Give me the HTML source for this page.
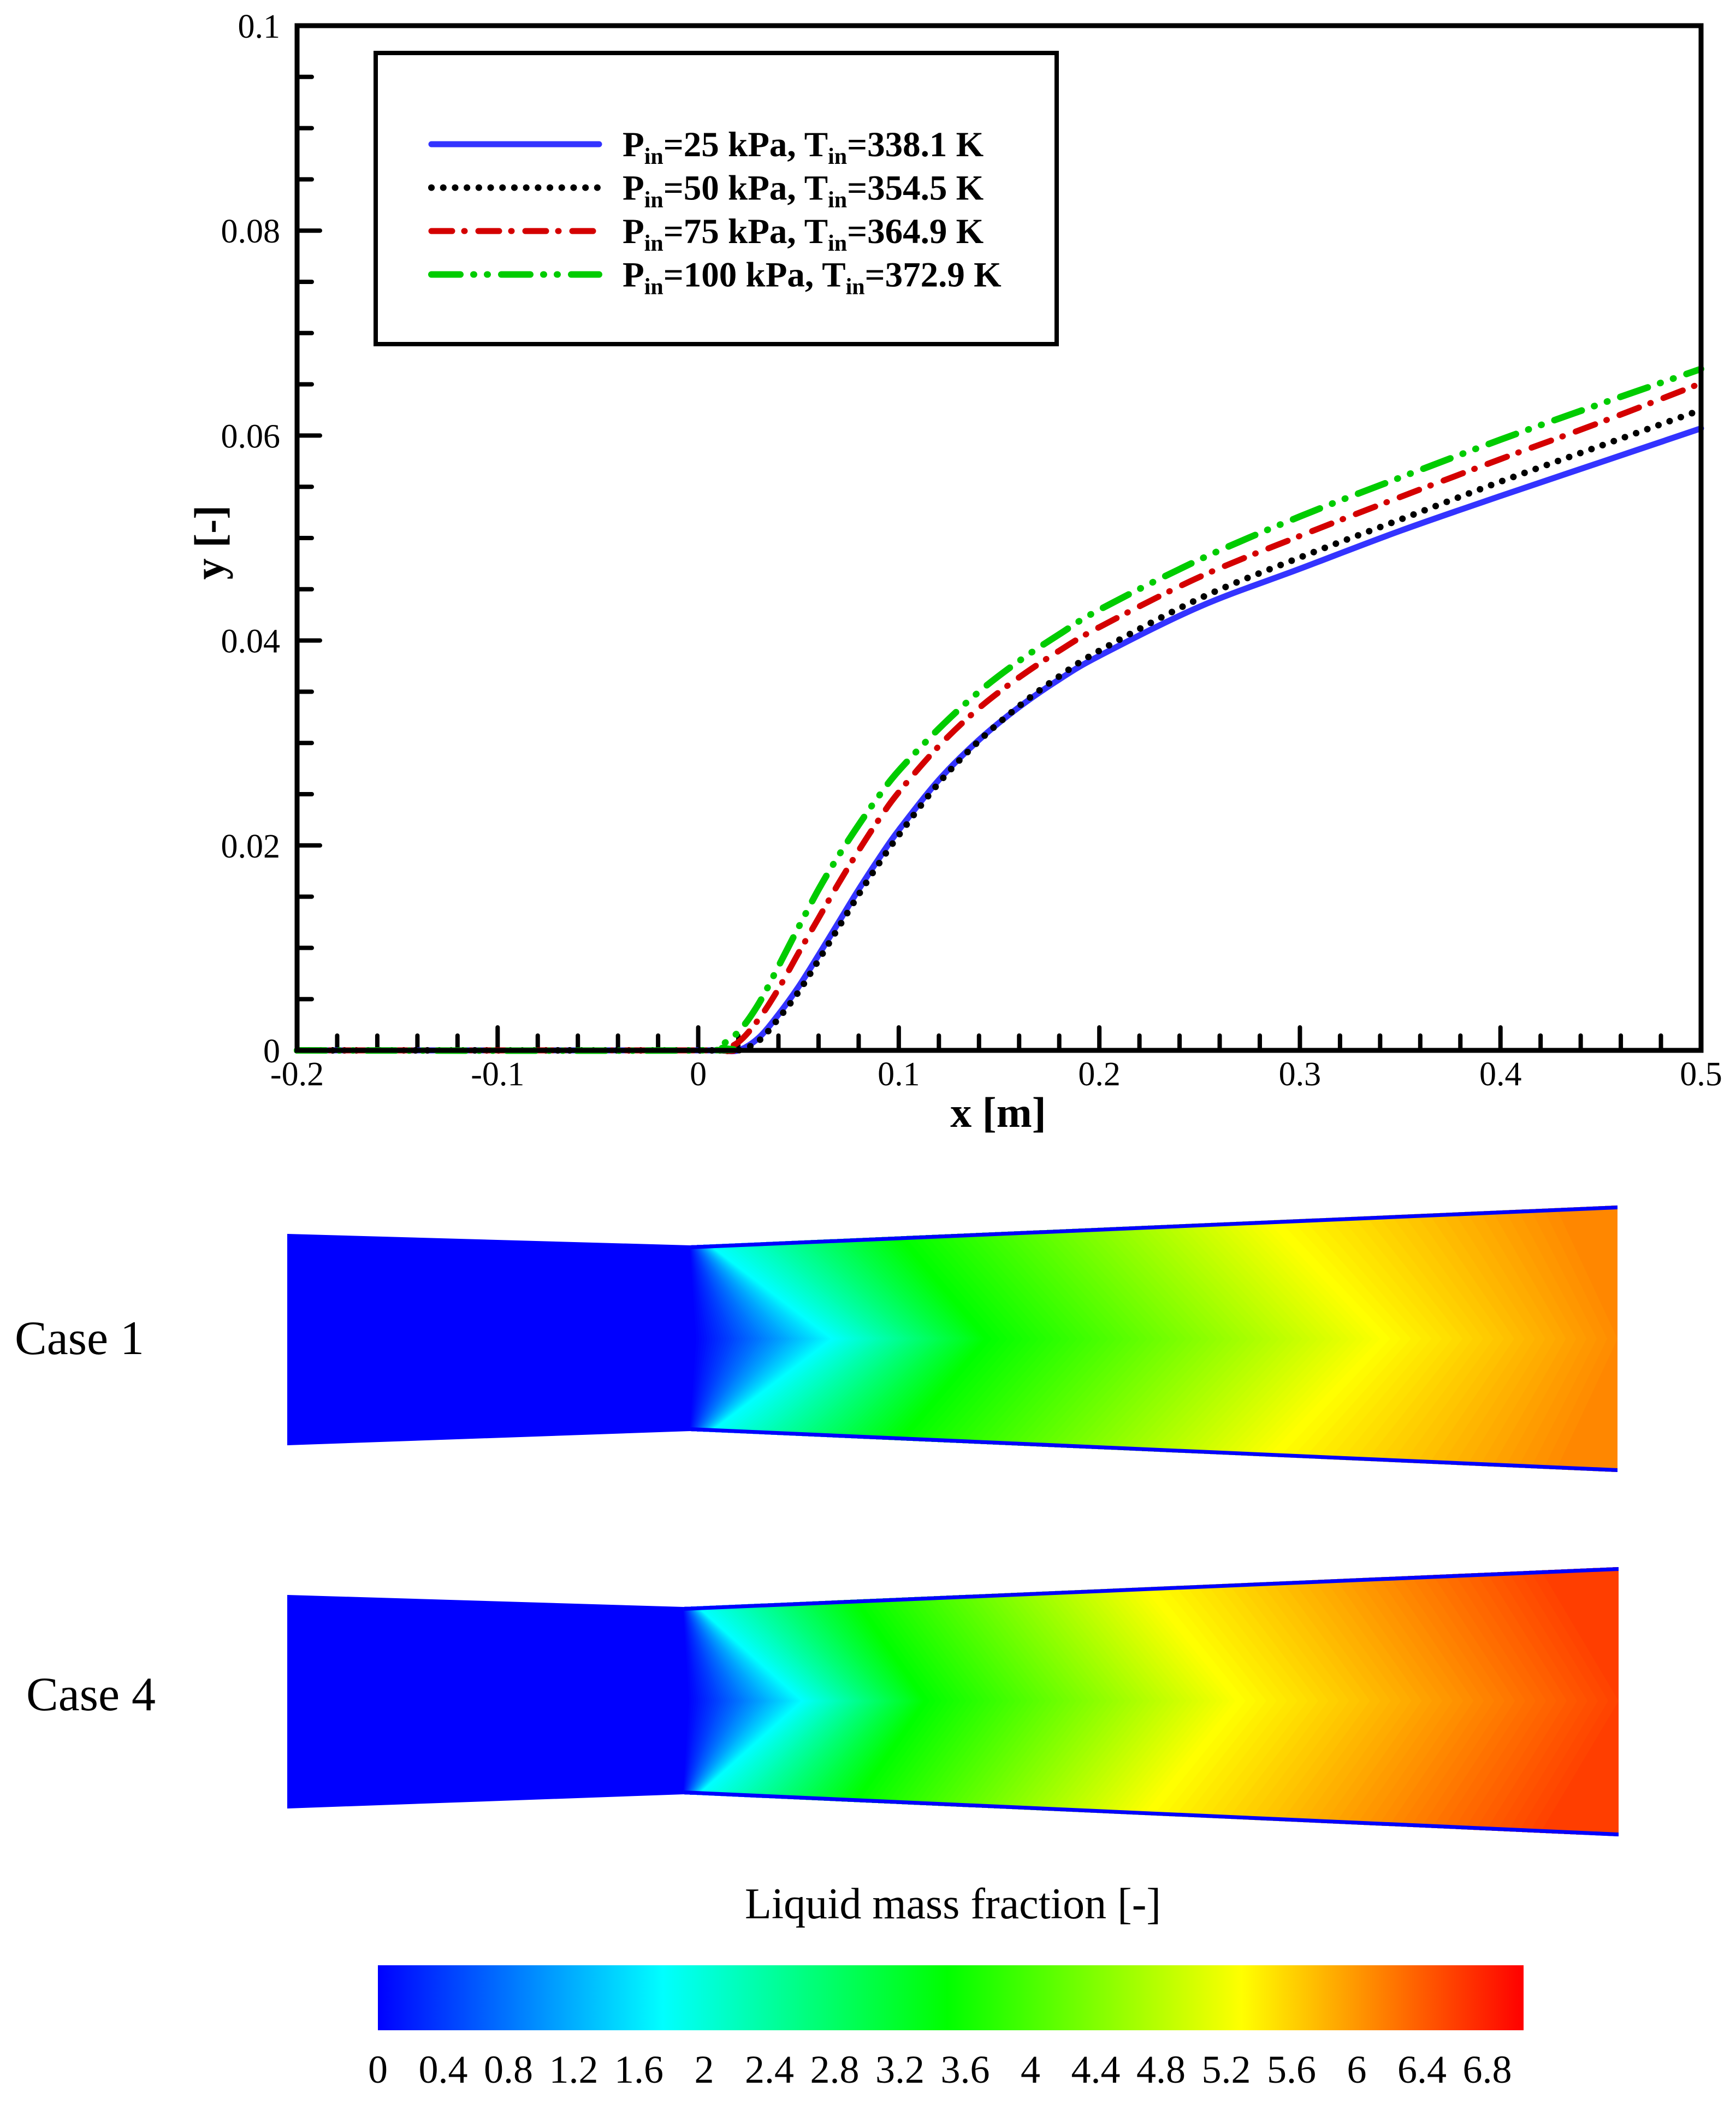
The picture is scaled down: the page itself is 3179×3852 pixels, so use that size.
<!DOCTYPE html>
<html><head><meta charset="utf-8"><style>
html,body{margin:0;padding:0;background:#fff}
svg{display:block}
</style></head><body>
<svg id="fig" width="3179" height="3852" viewBox="0 0 3179 3852" xmlns="http://www.w3.org/2000/svg">
<defs>
<linearGradient id="cbar" x1="0" x2="1" y1="0" y2="0">
<stop offset="0" stop-color="#0000ff"/><stop offset="0.249" stop-color="#00ffff"/><stop offset="0.497" stop-color="#00ff00"/><stop offset="0.754" stop-color="#ffff00"/><stop offset="1" stop-color="#ff0000"/>
</linearGradient>
<clipPath id="clip1"><polygon points="526,2259 1264,2280 2962,2207 2962,2695 1264,2620 526,2646"/></clipPath>
<clipPath id="clip4"><polygon points="526,2920 1252,2942 2964,2869 2964,3362 1252,3285 526,3311"/></clipPath>
</defs>
<g id="chart"></g>
<g id="contours"></g>
<text x="27" y="2479" font-family="Liberation Serif, serif" font-size="88">Case 1</text>
<text x="48" y="3131" font-family="Liberation Serif, serif" font-size="88">Case 4</text>
<text x="1745" y="3512" text-anchor="middle" font-family="Liberation Serif, serif" font-size="80">Liquid mass fraction [-]</text>
<rect x="692" y="3598" width="2098" height="119" fill="url(#cbar)"/>
<g id="cbticks"></g>
</svg>
<script>
// ---- data ----
const xs = [-0.2,0,0.01,0.02,0.03,0.04,0.05,0.06,0.07,0.08,0.09,0.1,0.12,0.14,0.16,0.18,0.2,0.25,0.3,0.35,0.4,0.45,0.5];
const yBlue  = [0,0,0,0,0.0012,0.0035,0.0062,0.0093,0.0125,0.0157,0.0187,0.0215,0.0264,0.0303,0.0335,0.0362,0.0385,0.0433,0.0470,0.0507,0.0541,0.0574,0.0607];
const yBlack = [0,0,0,0,0.0009,0.0031,0.0057,0.0088,0.0120,0.0152,0.0182,0.0210,0.0261,0.0302,0.0336,0.0365,0.0390,0.0441,0.0481,0.0518,0.0555,0.0590,0.0625];
const yRed   = [0,0,0,0.0008,0.0030,0.0060,0.0095,0.0129,0.0163,0.0195,0.0225,0.0252,0.0297,0.0334,0.0364,0.0390,0.0413,0.0462,0.0502,0.0540,0.0577,0.0613,0.0651];
const yGreen = [0,0,0.0004,0.0018,0.0045,0.0082,0.0120,0.0157,0.0190,0.0220,0.0248,0.0273,0.0314,0.0350,0.0380,0.0406,0.0430,0.0479,0.0521,0.0559,0.0596,0.0631,0.0665];
const yTicks = [0,0.02,0.04,0.06,0.08,0.1];
const yTickLabels = ["0","0.02","0.04","0.06","0.08","0.1"];
const xTicks = [-0.2,-0.1,0,0.1,0.2,0.3,0.4,0.5];
const xTickLabels = ["-0.2","-0.1","0","0.1","0.2","0.3","0.4","0.5"];
const legendLabels = [["25","338.1"],["50","354.5"],["75","364.9"],["100","372.9"]];
const cbLabels = ["0","0.4","0.8","1.2","1.6","2","2.4","2.8","3.2","3.6","4","4.4","4.8","5.2","5.6","6","6.4","6.8"];
// contour fraction knots (t) and chevron positions
const tKnots = [0,0.25,0.5,0.755,0.87];
const c1Center = [1270,1521,1802,2527,2962];
const c1Wall   = [1262,1294,1653,2359,2880];
const tKnots4 = [0,0.25,0.5,0.755,0.94];
const c4Center = [1258,1467,1691,2262,2964];
const c4Wall   = [1250,1274,1569,2120,2860];

const NS="http://www.w3.org/2000/svg";
function mk(tag,attrs,parent){const e=document.createElementNS(NS,tag);for(const k in attrs)e.setAttribute(k,attrs[k]);parent.appendChild(e);return e;}
const L=544,R=3115,T=47,B=1923;
const sx=x=>L+(x+0.2)/0.7*(R-L);
const sy=y=>B-y/0.1*(B-T);
const chart=document.getElementById('chart');
const F='Liberation Serif, serif';

// ticks
for(let i=0;i<=20;i++){const v=i*0.005;const maj=(i%4===0);const yy=sy(v);
 const t=mk('line',{x1:L,x2:L+(maj?42:27),y1:yy,y2:yy,stroke:'#000','stroke-width':8,'stroke-linecap':'round'},chart);
 
 }
for(let i=0;i<=35;i++){const v=-0.2+i*0.02;const maj=(i%5===0);const xx=sx(v);
 const t=mk('line',{x1:xx,x2:xx,y1:B,y2:B-(maj?42:27),stroke:'#000','stroke-width':8,'stroke-linecap':'round'},chart);
 
 }
yTicks.forEach((v,i)=>{const t=mk('text',{x:513,y:sy(v)+22,'text-anchor':'end','font-family':F,'font-size':62},chart);t.textContent=yTickLabels[i];
 
 });
xTicks.forEach((v,i)=>{const t=mk('text',{x:sx(v),y:1987,'text-anchor':'middle','font-family':F,'font-size':62},chart);t.textContent=xTickLabels[i];
 
 });
let at=mk('text',{x:1828,y:2063,'text-anchor':'middle','font-family':F,'font-size':78,'font-weight':'bold'},chart);at.textContent='x [m]';


at=mk('text',{x:0,y:0,'text-anchor':'middle','font-family':F,'font-size':78,'font-weight':'bold',transform:'translate(410,993) rotate(-90)'},chart);at.textContent='y [-]';



// curves
function pathFrom(ys){const p=xs.map((x,i)=>[sx(x),sy(ys[i])]);let d='M'+p[0][0]+','+p[0][1];
 for(let i=0;i<p.length-1;i++){const p0=p[Math.max(0,i-1)],p1=p[i],p2=p[i+1],p3=p[Math.min(p.length-1,i+2)];
  const c1=[p1[0]+(p2[0]-p0[0])/6,p1[1]+(p2[1]-p0[1])/6],c2=[p2[0]-(p3[0]-p1[0])/6,p2[1]-(p3[1]-p1[1])/6];
  if(i===0){c1[0]=p1[0];c1[1]=p1[1];}
  d+=` C${c1[0]},${c1[1]} ${c2[0]},${c2[1]} ${p2[0]},${p2[1]}`;}return d;}
const styles=[
 {ys:yBlue,c:'#3333ff',w:11,da:'none',n:'series-25kpa'},
 {ys:yBlack,c:'#000000',w:12,da:'0.1 21.6',n:'series-50kpa'},
 {ys:yRed,c:'#d40000',w:11,da:'38 22 1 25',n:'series-75kpa'},
 {ys:yGreen,c:'#00cc00',w:12,da:'53 24 1 24 1 25',n:'series-100kpa'}];
styles.forEach(s=>{const e=mk('path',{d:pathFrom(s.ys),fill:'none',stroke:s.c,'stroke-width':s.w,'stroke-dasharray':s.da,'stroke-linecap':'round','stroke-linejoin':'round'},chart);
 
 });
// frame
let fr=mk('rect',{x:L,y:T,width:R-L,height:B-T,fill:'none',stroke:'#000','stroke-width':9},chart);


// legend
const lg=mk('g',{},chart);


mk('rect',{x:688,y:97,width:1247,height:533,fill:'#fff',stroke:'#000','stroke-width':8},lg);
styles.forEach((s,i)=>{const yy=264+i*79.5;
 const ln=mk('line',{x1:790,x2:1097,y1:yy,y2:yy,stroke:s.c,'stroke-width':s.w,'stroke-dasharray':s.da,'stroke-linecap':'round'},lg);
 
 
 const t=mk('text',{x:1140,y:yy+22,'font-family':F,'font-size':65,'font-weight':'bold'},lg);
 
 
 const lab=legendLabels[i];
 t.innerHTML=`P<tspan font-size="42" dy="14">in</tspan><tspan dy="-14">=${lab[0]} kPa, T</tspan><tspan font-size="42" dy="14">in</tspan><tspan dy="-14">=${lab[1]} K</tspan>`;});

// contours
function jet(t){const st=[[0,0,0,255],[0.25,0,255,255],[0.5,0,255,0],[0.755,255,255,0],[1,255,0,0]];
 for(let i=0;i<st.length-1;i++){if(t<=st[i+1][0]){const f=(t-st[i][0])/(st[i+1][0]-st[i][0]);
  return `rgb(${Math.round(st[i][1]+f*(st[i+1][1]-st[i][1]))},${Math.round(st[i][2]+f*(st[i+1][2]-st[i][2]))},${Math.round(st[i][3]+f*(st[i+1][3]-st[i][3]))})`;}}return 'rgb(255,0,0)';}
function interp(k,v,t){for(let i=0;i<k.length-1;i++){if(t<=k[i+1]){const f=(t-k[i])/(k[i+1]-k[i]);return v[i]+f*(v[i+1]-v[i]);}}return v[v.length-1];}
const cg=document.getElementById('contours');
function domain(clip,knots,cen,wal,yc,h,wallPts,name){
 const g=mk('g',{'clip-path':`url(#${clip})`},cg);
 
 
 mk('rect',{x:500,y:yc-400,width:2600,height:800,fill:'#0000ff'},g);
 const tmax=knots[knots.length-1];
 for(let t=0.005;t<=tmax+1e-9;t+=0.005){const xc=interp(knots,cen,t),xw=interp(knots,wal,t);
  const top=yc-h*1.4,bot=yc+h*1.4;const xw2=xw-(xc-xw)*0.4;
  const pts=`${xw2},${top} ${xc},${yc} ${xw2},${bot} 3100,${bot} 3100,${top}`;
  mk('polygon',{points:pts,fill:jet(t)},g);}
 wallPts.forEach(p=>{mk('polyline',{points:p,fill:'none',stroke:'#0000ff','stroke-width':14},g);});
}
domain('clip1',tKnots,c1Center,c1Wall,2451,175,["1264,2280 2962,2207","1264,2620 2962,2695"],'case-1-contour');
domain('clip4',tKnots4,c4Center,c4Wall,3114,175,["1252,2942 2964,2869","1252,3285 2964,3362"],'case-4-contour');

// colorbar labels
const cbt=document.getElementById('cbticks');
cbLabels.forEach((s,i)=>{const t=mk('text',{x:692+i*119.5,y:3813,'text-anchor':'middle','font-family':F,'font-size':72},cbt);t.textContent=s;
 
 });
</script>
</body></html>
